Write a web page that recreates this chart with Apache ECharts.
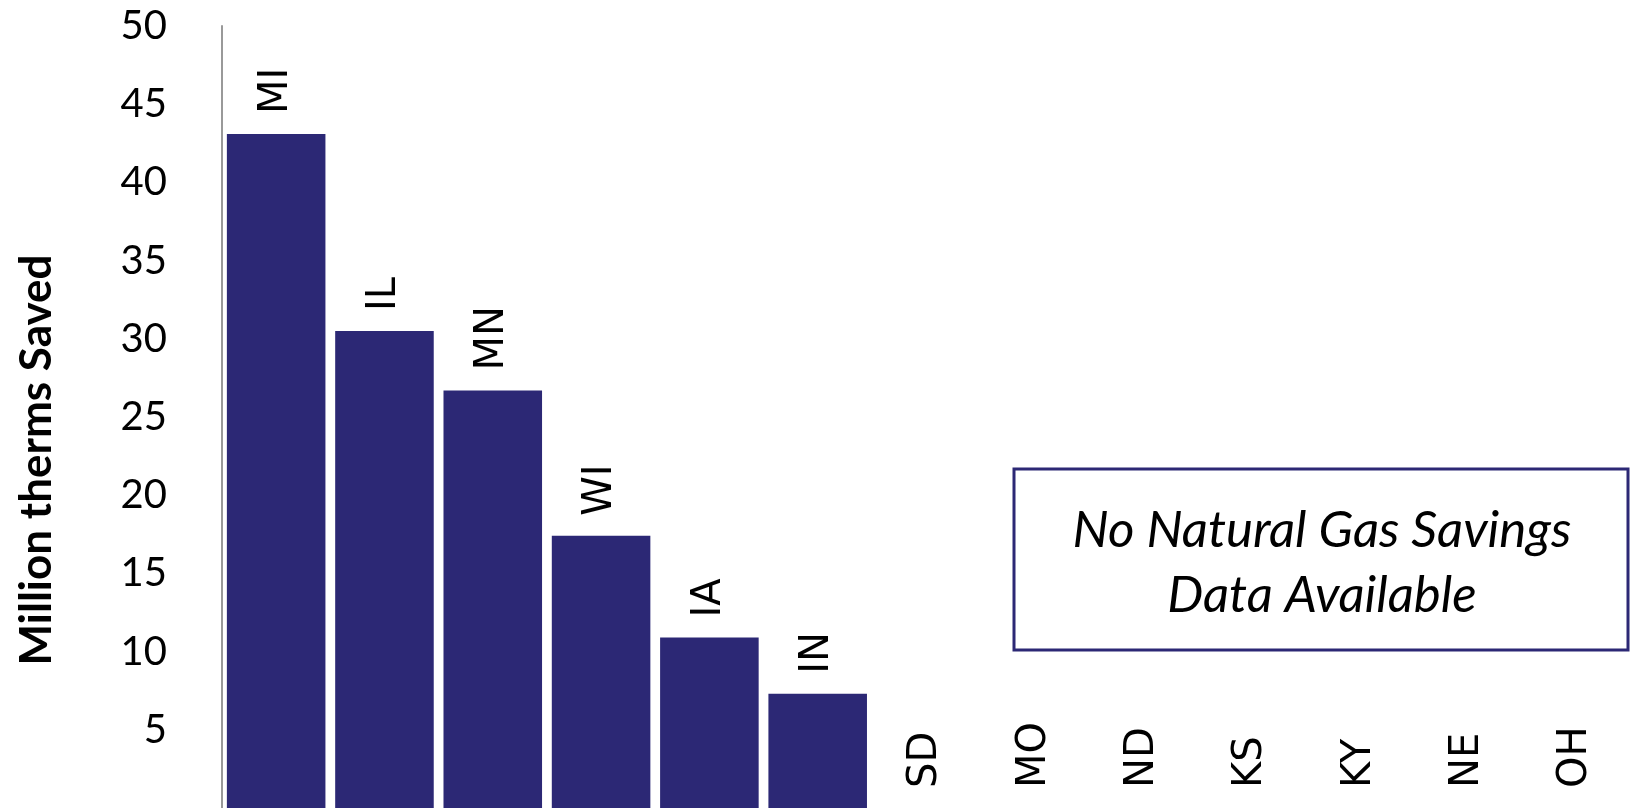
<!DOCTYPE html>
<html>
<head>
    <meta charset="utf-8">
    <title>Natural gas savings</title>
    <script src="https://cdn.jsdelivr.net/npm/echarts@6/dist/echarts.min.js"></script>
    <style>
        * { margin: 0; padding: 0; }
    </style>
</head>
<body>
    <div id="main" style="width: 1630px; height: 808px;"></div>
    <script type="text/javascript">
        // states, in chart order
        var states = ['MI', 'IL', 'MN', 'WI', 'IA', 'IN', 'SD', 'MO', 'ND', 'KS', 'KY', 'NE', 'OH'];
        // million therms saved (0 = no data)
        var savings = [43.1, 30.5, 26.7, 17.4, 10.9, 7.3, 0, 0, 0, 0, 0, 0, 0];
        var yTicks = [5, 10, 15, 20, 25, 30, 35, 40, 45, 50];

        var barColor = '#2c2875';

        var myChart = echarts.init(document.getElementById('main'));

        var option = {
            backgroundColor: '#fff',
            animation: false,
            grid: { left: 222, right: 0, top: 26, bottom: 0 },
            xAxis: {
                type: 'category',
                data: states,
                axisLine: { show: false },
                axisTick: { show: false },
                axisLabel: { show: false }
            },
            yAxis: {
                type: 'value',
                min: 0,
                max: yTicks[yTicks.length - 1],
                interval: 5,
                axisLine: { show: true, lineStyle: { color: '#999', width: 2 } },
                axisTick: { show: false },
                splitLine: { show: false },
                axisLabel: {
                    margin: 55,
                    fontFamily: 'Lato',
                    fontSize: 40,
                    color: '#000',
                    formatter: function (v) {
                        return yTicks.indexOf(v) >= 0 ? String(v) : '';
                    }
                }
            },
            graphic: [
                {
                    type: 'text',
                    x: 37,
                    y: 460,
                    rotation: Math.PI / 2,
                    style: {
                        text: 'Million therms Saved',
                        font: 'bold 44px Lato',
                        fill: '#000',
                        align: 'center',
                        verticalAlign: 'middle'
                    }
                },
                {
                    type: 'rect',
                    shape: { x: 1014, y: 469, width: 614, height: 181 },
                    style: { fill: '#fff', stroke: barColor, lineWidth: 3 }
                },
                {
                    type: 'text',
                    x: 1322,
                    y: 563,
                    style: {
                        text: 'No Natural Gas Savings\nData Available',
                        font: 'italic 51px Lato',
                        lineHeight: 65,
                        fill: '#000',
                        align: 'center',
                        verticalAlign: 'middle'
                    }
                }
            ],
            series: [
                {
                    type: 'bar',
                    data: savings,
                    barCategoryGap: '9%',
                    itemStyle: { color: barColor },
                    label: {
                        show: true,
                        position: 'top',
                        distance: 20,
                        rotate: 90,
                        align: 'left',
                        verticalAlign: 'middle',
                        fontFamily: 'DejaVu Sans',
                        fontSize: 40,
                        color: '#000',
                        formatter: function (p) { return p.name; }
                    }
                }
            ]
        };

        myChart.setOption(option);
    </script>
</body>
</html>
